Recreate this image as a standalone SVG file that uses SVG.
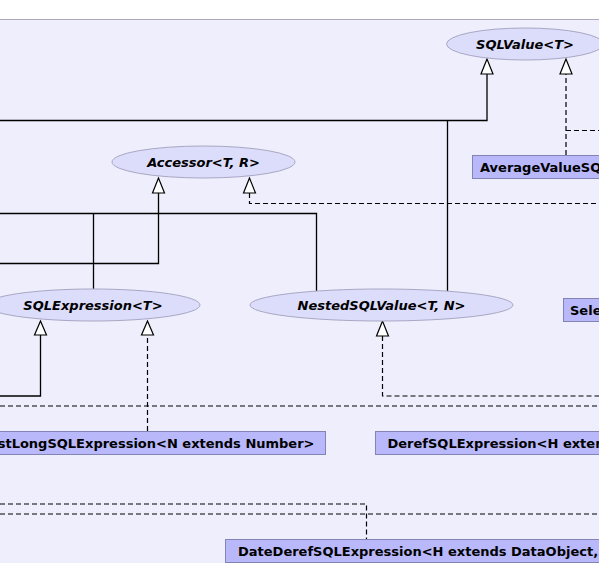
<svg xmlns="http://www.w3.org/2000/svg" width="599" height="563" viewBox="0 0 599 563">
<style>
.bg{fill:#eeeefd;stroke:#aaaabb;stroke-width:1}
.iface ellipse{fill:#dcdcfb;stroke:#a8a8c4;stroke-width:1}
.iface text{font-family:"DejaVu Sans",sans-serif;font-weight:bold;font-style:italic;font-size:13px;fill:#000;text-anchor:middle}
.cls rect{fill:#b8b8fb;stroke:#8484b4;stroke-width:1}
.cls text{font-family:"DejaVu Sans",sans-serif;font-weight:bold;font-size:13px;fill:#000}
.solid{fill:none;stroke:#000;stroke-width:1.3}
.dash{fill:none;stroke:#000;stroke-width:1.2;stroke-dasharray:5,3}
.tri{fill:#fff;stroke:#000;stroke-width:1.2}
</style>
<rect x="0" y="0" width="599" height="563" fill="#fff"/>
<rect class="bg" x="-2" y="19.5" width="603" height="547"/>

<g id="connectors">
  <path class="solid" d="M0,120.5 H487 V74"/>
  <path class="solid" d="M447.5,120.5 V291"/>
  <path class="solid" d="M0,263.5 H158.5 V193"/>
  <path class="solid" d="M0,213.5 H316.5 V291"/>
  <path class="solid" d="M93.5,213.5 V289"/>
  <path class="solid" d="M0,396 H40.5 V335"/>
  <path class="dash" d="M566,155 V74"/>
  <path class="dash" d="M566,130.5 H599"/>
  <path class="dash" d="M249.5,193 V203.5 H599"/>
  <path class="dash" d="M147.5,431 V335"/>
  <path class="dash" d="M382.5,336 V396 H599"/>
  <path class="dash" d="M0,406 H599"/>
  <path class="dash" d="M0,504 H366.5 V539"/>
  <path class="dash" d="M0,514 H599"/>
  <path class="tri" d="M487,59 L481,74 H493 Z"/>
  <path class="tri" d="M566,59 L560,74 H572 Z"/>
  <path class="tri" d="M158.5,178 L152.5,193 H164.5 Z"/>
  <path class="tri" d="M249.5,178 L243.5,193 H255.5 Z"/>
  <path class="tri" d="M40.5,321 L34.5,335 H46.5 Z"/>
  <path class="tri" d="M147.5,321 L141.5,335 H153.5 Z"/>
  <path class="tri" d="M382.5,321 L376.5,336 H388.5 Z"/>
</g>

<g id="SQLValue" class="iface">
  <ellipse cx="525" cy="44" rx="78.5" ry="16"/>
  <text x="525" y="48.5">SQLValue&lt;T&gt;</text>
</g>
<g id="Accessor" class="iface">
  <ellipse cx="203.5" cy="162" rx="91.5" ry="16"/>
  <text x="203.5" y="166.5">Accessor&lt;T, R&gt;</text>
</g>
<g id="SQLExpression" class="iface">
  <ellipse cx="93" cy="305" rx="107" ry="16"/>
  <text x="93" y="309.5">SQLExpression&lt;T&gt;</text>
</g>
<g id="NestedSQLValue" class="iface">
  <ellipse cx="381.5" cy="305" rx="131.5" ry="16"/>
  <text x="381.5" y="309.5">NestedSQLValue&lt;T, N&gt;</text>
</g>

<g id="AverageValueSQL" class="cls">
  <rect x="472.5" y="155.5" width="200" height="23"/>
  <text x="480" y="171.5">AverageValueSQ</text>
</g>
<g id="Select" class="cls">
  <rect x="563.5" y="298.5" width="100" height="23"/>
  <text x="570" y="314.5">Sele</text>
</g>
<g id="LongSQLExpression" class="cls">
  <rect x="-10" y="431.5" width="335.5" height="23"/>
  <text x="314.5" y="447.5" text-anchor="end">stLongSQLExpression&lt;N extends Number&gt;</text>
</g>
<g id="DerefSQLExpression" class="cls">
  <rect x="375.5" y="431.5" width="300" height="23"/>
  <text x="387.5" y="447.5">DerefSQLExpression&lt;H exten</text>
</g>
<g id="DateDerefSQLExpression" class="cls">
  <rect x="225.5" y="539.5" width="400" height="23"/>
  <text x="238" y="555.5">DateDerefSQLExpression&lt;H extends DataObject,</text>
</g>
</svg>
